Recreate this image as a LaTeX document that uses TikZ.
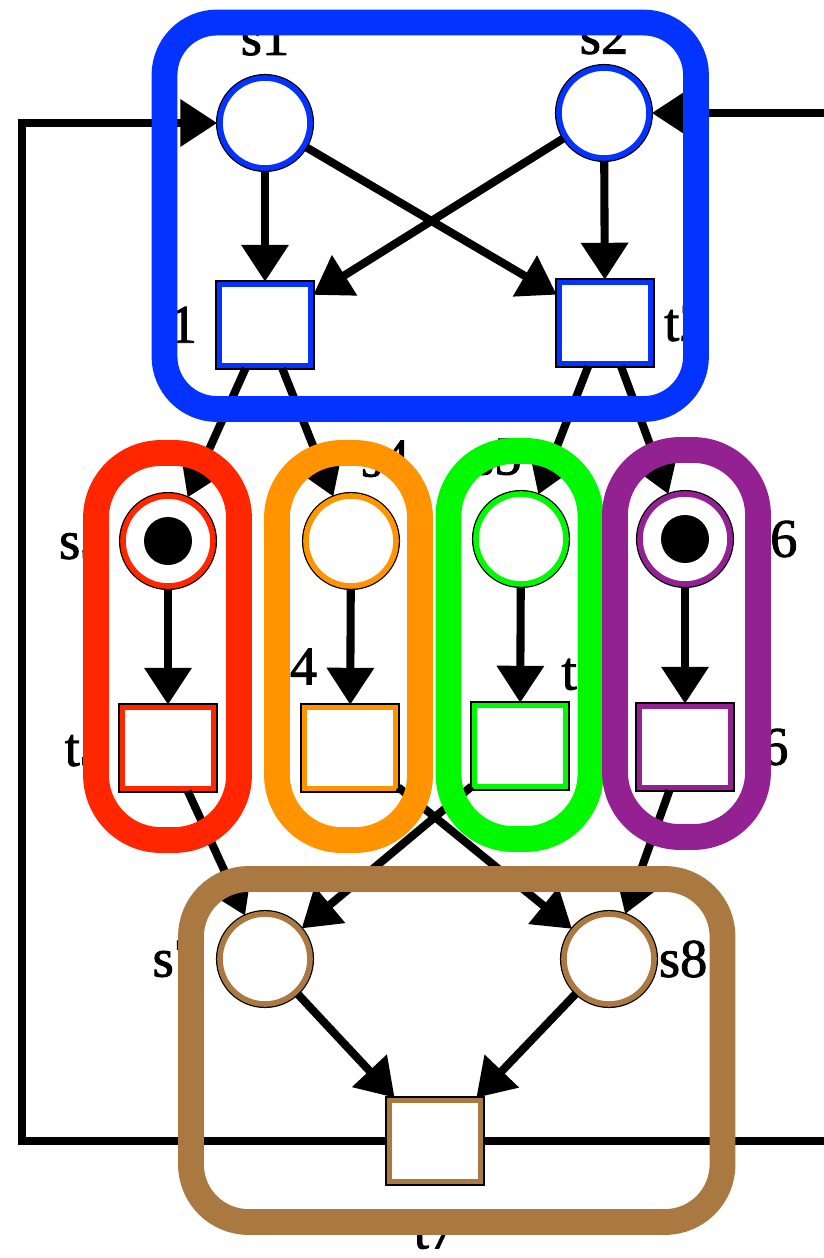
\documentclass[tikz,border=0pt]{standalone}
\usepackage{fontspec}
\setmainfont{Liberation Serif}
\newfontfamily\lblfont{Liberation Serif}[BoldFont={Liberation Serif},BoldFeatures={FakeBold=1.6}]
\usetikzlibrary{positioning,arrows.meta}
\definecolor{grpBlue}{RGB}{4,51,255}
\definecolor{grpRed}{RGB}{255,38,0}
\definecolor{grpOrange}{RGB}{255,147,0}
\definecolor{grpGreen}{RGB}{0,249,0}
\definecolor{grpPurple}{RGB}{148,33,146}
\definecolor{grpBrown}{RGB}{170,121,66}

\begin{document}
\begin{tikzpicture}[
                  pl/.style={circle,draw=#1,line width=3.2pt,fill=white,minimum size=1.8cm,inner sep=0pt,preaction={draw=black,line width=4.6pt}},
                  tr/.style={rectangle,draw=#1,line width=3.2pt,fill=white,minimum width=1.82cm,minimum height=1.62cm,inner sep=0pt,preaction={draw=black,line width=4.6pt}},
                  tok/.style={circle,fill=black,minimum size=0.96cm,inner sep=0pt},
                  lbl/.style={font=\lblfont\bfseries\fontsize{31}{36}\selectfont,inner sep=0pt},
                  arc/.style={-{Triangle[length=21pt,width=26pt]},line width=4.6pt},
                  grp/.style={draw=#1,line width=14.7pt,rounded corners=1.3cm}
                ]
                \useasboundingbox (0,0) rectangle (16.48,-25.16);
                \node[pl=grpBlue] (s1) at (5.30,-2.46) {};
                \node[pl=grpBlue] (s2) at (12.08,-2.26) {};
                \node[tr=grpBlue] (t1) at (5.30,-6.50) {};
                \node[tr=grpBlue] (t2) at (12.10,-6.46) {};
                \node[pl=grpRed] (s3) at (3.36,-10.82) {};
                \node[pl=grpOrange] (s4) at (7.02,-10.82) {};
                \node[pl=grpGreen] (s5) at (10.42,-10.78) {};
                \node[pl=grpPurple] (s6) at (13.70,-10.78) {};
                \node[tok] (tok3) at (s3) {};
                \node[tok] (tok6) at (s6) {};
                \node[tr=grpRed] (t3) at (3.36,-14.96) {};
                \node[tr=grpOrange] (t4) at (7.00,-14.96) {};
                \node[tr=grpGreen] (t5) at (10.40,-14.92) {};
                \node[tr=grpPurple] (t6) at (13.70,-14.94) {};
                \node[pl=grpBrown] (s7) at (5.30,-19.18) {};
                \node[pl=grpBrown] (s8) at (12.18,-19.18) {};
                \node[tr=grpBrown] (t7) at (8.70,-22.82) {};
                \coordinate (fbL) at (0.44,0);
                \coordinate (fbR) at (17.2,0);

                \draw[arc] (s1) -- (t1);
                \draw[arc] (s1) -- (t2);
                \draw[arc] (s2) -- (t1);
                \draw[arc] (s2) -- (t2);
                \draw[arc] (t1) -- (s3);
                \draw[arc] (t1) -- (s4);
                \draw[arc] (t2) -- (s5);
                \draw[arc] (t2) -- (s6);
                \draw[arc] (s3) -- (t3);
                \draw[arc] (s4) -- (t4);
                \draw[arc] (s5) -- (t5);
                \draw[arc] (s6) -- (t6);
                \draw[arc] (t3) -- (s7);
                \draw[arc] (t5) -- (s7);
                \draw[arc] (t4) -- (s8);
                \draw[arc] (t6) -- (s8);
                \draw[arc] (s7) -- (t7);
                \draw[arc] (s8) -- (t7);
                \draw[arc] (t7.west) -- (t7.west -| fbL) -- (fbL |- s1.west) -- (s1.west);
                \draw[arc] (t7.east) -- (t7.east -| fbR) -- (fbR |- s2.east) -- (s2.east);

                \node[lbl,above=11pt of s1] (s1l) {s1};
                \node[lbl,above=6pt of s2] (s2l) {s2};
                \node[lbl,left=11pt of t1] (t1l) {t1};
                \node[lbl,right=6pt of t2] (t2l) {t2};
                \node[lbl,left=7pt of s3] (s3l) {s3};
                \node[lbl,above=9pt of s4,xshift=19.5pt] (s4l) {s4};
                \node[lbl,above=9pt of s5,xshift=-13.5pt] (s5l) {s5};
                \node[lbl,right=9pt of s6] (s6l) {s6};
                \node[lbl,left=7pt of t3] (t3l) {t3};
                \node[lbl,above left=11pt and -9pt of t4] (t4l) {t4};
                \node[lbl,above right=7pt and -4pt of t5] (t5l) {t5};
                \node[lbl,right=7pt of t6] (t6l) {t6};
                \node[lbl,left=9pt of s7] (s7l) {s7};
                \node[lbl,right=1pt of s8] (s8l) {s8};
                \node[lbl,below=16pt of t7] (t7l) {t7};

                \draw[grp=grpBlue,rounded corners=1.05cm] (3.29,-0.45) rectangle (13.92,-8.18);
                \draw[grp=grpRed] (1.92,-9.06) rectangle (4.78,-16.80);
                \draw[grp=grpOrange] (5.54,-9.06) rectangle (8.40,-16.80);
                \draw[grp=grpGreen] (8.97,-9.02) rectangle (11.81,-16.78);
                \draw[grp=grpPurple] (12.30,-9.00) rectangle (15.16,-16.74);
                \draw[grp=grpBrown,rounded corners=1.15cm] (3.82,-17.58) rectangle (14.45,-24.44);
                \end{tikzpicture}
\end{document}
